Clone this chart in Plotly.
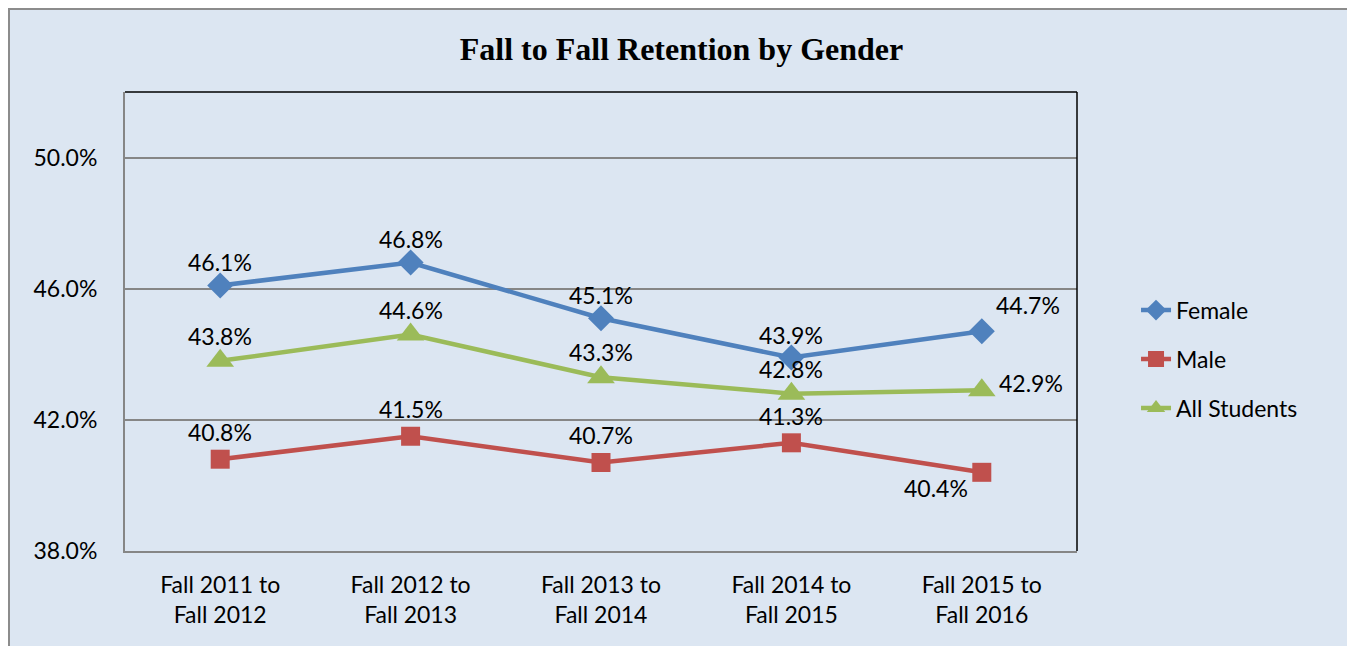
import plotly.graph_objects as go

categories = ["Fall 2011 to<br>Fall 2012", "Fall 2012 to<br>Fall 2013", "Fall 2013 to<br>Fall 2014",
              "Fall 2014 to<br>Fall 2015", "Fall 2015 to<br>Fall 2016"]
female = [46.1, 46.8, 45.1, 43.9, 44.7]
male = [40.8, 41.5, 40.7, 41.3, 40.4]
all_students = [43.8, 44.6, 43.3, 42.8, 42.9]
y_ticks = [38, 42, 46, 50]
y_tick_text = ["38.0%", "42.0%", "46.0%", "50.0%"]

FONT = "Lato"
FS = 23

W, H = 1347, 638
L, R, T, B = 117, 278, 84, 95

fig = go.Figure()
series = [
    ("Female", female, "#4f81bd", "diamond", 20),
    ("Male", male, "#c0504d", "square", 19),
    ("All Students", all_students, "#9bbb59", "triangle-up", 24),
]
for name, vals, color, sym, size in series:
    fig.add_trace(go.Scatter(
        x=list(range(len(categories))), y=vals, name=name, mode="lines+markers",
        line=dict(color=color, width=4.5),
        marker=dict(symbol=sym, size=size, color=color),
        legendgroup=name,
    ))

# data labels
annotations = []
def lab(i, v, xanchor="center", xshift=0, yshift=25):
    annotations.append(dict(x=i, y=v, xref="x", yref="y", text=f"{v:.1f}%", showarrow=False,
                            xanchor=xanchor, yanchor="middle", xshift=xshift, yshift=yshift,
                            font=dict(family=FONT, size=FS, color="black")))

for i, v in enumerate(female):
    if i == 4:
        lab(i, v, xanchor="left", xshift=12, yshift=26)
    else:
        lab(i, v, yshift=23)
for i, v in enumerate(all_students):
    if i == 4:
        lab(i, v, xanchor="left", xshift=15, yshift=7)
    else:
        lab(i, v, yshift=25)
for i, v in enumerate(male):
    if i == 4:
        lab(i, v, xanchor="right", xshift=-12, yshift=-16)
    else:
        lab(i, v, yshift=27)

pw, ph = W - L - R, H - T - B
shapes = [
    # outer frame
    dict(type="rect", xref="paper", yref="paper",
         x0=(1 - L) / pw, x1=(W - 1 - L) / pw, y0=-(B + 10) / ph, y1=(H - 1 - B) / ph,
         fillcolor="#dce6f2", line=dict(color="#8c8c8c", width=2), layer="below"),
    # top & right black border of plot area
    dict(type="line", xref="paper", yref="paper", x0=0, x1=1, y0=1, y1=1,
         line=dict(color="black", width=1.5)),
    dict(type="line", xref="paper", yref="paper", x0=1, x1=1, y0=0, y1=1,
         line=dict(color="black", width=1.5)),
]

fig.update_layout(
    width=W, height=H,
    margin=dict(l=L, r=R, t=T, b=B),
    paper_bgcolor="white",
    plot_bgcolor="#f2f2f2",
    title=dict(text="<b>Fall to Fall Retention by Gender</b>", x=0.5, xanchor="center",
               y=1 - 41 / H, yanchor="middle",
               font=dict(family="Liberation Serif", size=32, color="black")),
    xaxis=dict(tickmode="array", tickvals=list(range(len(categories))), ticktext=categories,
               range=[-0.5, 4.5], showgrid=False, zeroline=False,
               showline=True, linecolor="#868686", linewidth=2,
               tickfont=dict(family=FONT, size=FS, color="black"), ticks="", ticklabelstandoff=12),
    yaxis=dict(range=[38, 52], tickvals=y_ticks, ticktext=y_tick_text,
               showgrid=True, gridcolor="#868686", gridwidth=1.5, zeroline=False,
               showline=True, linecolor="#868686", linewidth=2,
               tickfont=dict(family=FONT, size=FS, color="black"), ticks="", ticklabelstandoff=21),
    legend=dict(x=1.062, y=0.418, xanchor="left", yanchor="middle", bgcolor="rgba(0,0,0,0)",
                font=dict(family=FONT, size=FS, color="black"), tracegroupgap=16,
                itemwidth=30),
    showlegend=True,
    annotations=annotations,
    shapes=shapes,
)

fig.write_html("out.html")
